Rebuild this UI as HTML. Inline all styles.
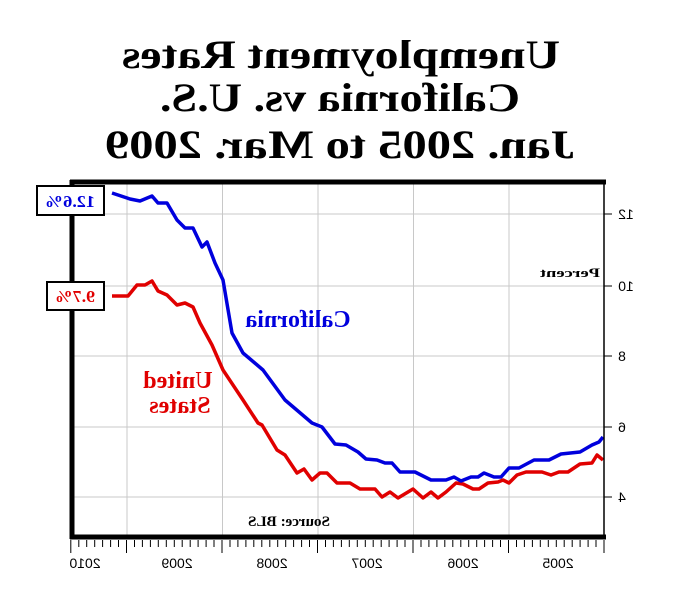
<!DOCTYPE html><html><head><style>body{margin:0;background:#fff}svg{display:block}</style></head><body>
<svg width="675" height="600" xmlns="http://www.w3.org/2000/svg" font-family="Liberation Serif, serif">
<rect width="675" height="600" fill="#fff"/>
<g font-weight="bold" font-size="40" text-anchor="middle">
<g transform="translate(341,68) scale(-1,1)"><text textLength="438" lengthAdjust="spacingAndGlyphs">Unemployment Rates</text></g>
<g transform="translate(340,111) scale(-1,1)"><text textLength="360" lengthAdjust="spacingAndGlyphs">California vs. U.S.</text></g>
<g transform="translate(340,158) scale(-1,1)"><text textLength="470" lengthAdjust="spacingAndGlyphs">Jan. 2005 to Mar. 2009</text></g>
</g>
<g stroke="#c8c8c8" stroke-width="1">
<line x1="127" y1="182" x2="127" y2="535"/><line x1="222.5" y1="182" x2="222.5" y2="535"/><line x1="318" y1="182" x2="318" y2="535"/><line x1="413.5" y1="182" x2="413.5" y2="535"/><line x1="509" y1="182" x2="509" y2="535"/>
<line x1="72" y1="214" x2="604" y2="214"/><line x1="72" y1="286" x2="604" y2="286"/><line x1="72" y1="356" x2="604" y2="356"/><line x1="72" y1="427" x2="604" y2="427"/><line x1="72" y1="497" x2="604" y2="497"/>
</g>
<polyline fill="none" stroke="#e00000" stroke-width="3.5" stroke-linejoin="round" points="112,296 128,296 137,285 145,285 152,281 158,291 167,295 177,305 185,303 193,307 200,323 212,345 223,370 243,400 258,423 262,425 277,450 285,455 297,473 304,469 312,480 320,473 327,473 337,483 350,483 360,489 375,489 382,497 390,492 398,498 413,489 423,498 431,492 438,498 446,492 456,483 463,484 473,489 479,489 488,483 498,482 503,480 509,483 517,475 526,472 542,472 551,475 559,472 568,472 580,464 592,463 597,455 603,460"/>
<polyline fill="none" stroke="#0000dd" stroke-width="3.5" stroke-linejoin="round" points="112,193 130,199 140,201 152,196 158,203 167,203 177,220 185,228 193,228 202,247 207,242 215,263 223,280 232,333 243,353 263,370 285,400 312,423 322,427 335,444 346,445 358,452 366,459 377,460 385,463 392,463 400,472 415,472 431,480 446,480 454,477 461,481 471,477 478,477 484,473 494,477 501,477 509,468 519,468 534,460 549,460 561,454 580,452 592,445 599,442 603,437"/>
<g stroke="#000">
<line x1="70" y1="182" x2="606" y2="182" stroke-width="5"/>
<line x1="72" y1="180" x2="72" y2="539" stroke-width="5"/>
<line x1="70" y1="537" x2="606" y2="537" stroke-width="5"/>
<line x1="604" y1="180" x2="604" y2="539" stroke-width="1.5"/>
<line x1="604" y1="214" x2="612" y2="214"/><line x1="604" y1="286" x2="612" y2="286"/><line x1="604" y1="356" x2="612" y2="356"/><line x1="604" y1="427" x2="612" y2="427"/><line x1="604" y1="497" x2="612" y2="497"/>
</g>
<path stroke="#000" stroke-width="1" fill="none" d="M604,540v13 M596,540v7 M588.1,540v7 M580.1,540v7 M572.2,540v7 M564.2,540v7 M556.3,540v7 M548.3,540v7 M540.3,540v7 M532.4,540v7 M524.4,540v7 M516.5,540v7 M508.5,540v13 M500.5,540v7 M492.6,540v7 M484.6,540v7 M476.7,540v7 M468.7,540v7 M460.8,540v7 M452.8,540v7 M444.8,540v7 M436.9,540v7 M428.9,540v7 M421,540v7 M413,540v13 M405,540v7 M397.1,540v7 M389.1,540v7 M381.2,540v7 M373.2,540v7 M365.3,540v7 M357.3,540v7 M349.3,540v7 M341.4,540v7 M333.4,540v7 M325.5,540v7 M317.5,540v13 M309.5,540v7 M301.6,540v7 M293.6,540v7 M285.7,540v7 M277.7,540v7 M269.8,540v7 M261.8,540v7 M253.8,540v7 M245.9,540v7 M237.9,540v7 M230,540v7 M222,540v13 M214,540v7 M206.1,540v7 M198.1,540v7 M190.2,540v7 M182.2,540v7 M174.3,540v7 M166.3,540v7 M158.3,540v7 M150.4,540v7 M142.4,540v7 M134.5,540v7 M126.5,540v13 M118.5,540v7 M110.6,540v7 M102.6,540v7 M94.7,540v7 M86.7,540v7 M78.8,540v7 M70.8,540v13"/>
<g font-family="Liberation Sans, sans-serif" font-size="14" text-anchor="middle">
<g transform="translate(626,219) scale(-1,1)"><text>12</text></g>
<g transform="translate(626,291) scale(-1,1)"><text>10</text></g>
<g transform="translate(622,361) scale(-1,1)"><text>8</text></g>
<g transform="translate(622,432) scale(-1,1)"><text>6</text></g>
<g transform="translate(622,502) scale(-1,1)"><text>4</text></g>
<g transform="translate(85,568) scale(-1,1)"><text>2010</text></g>
<g transform="translate(177,568) scale(-1,1)"><text>2009</text></g>
<g transform="translate(272,568) scale(-1,1)"><text>2008</text></g>
<g transform="translate(367,568) scale(-1,1)"><text>2007</text></g>
<g transform="translate(463,568) scale(-1,1)"><text>2006</text></g>
<g transform="translate(558,568) scale(-1,1)"><text>2005</text></g>
</g>
<g font-weight="bold" text-anchor="middle">
<g transform="translate(570,277) scale(-1,1)"><text font-size="13" textLength="60" lengthAdjust="spacingAndGlyphs">Percent</text></g>
<g transform="translate(289,526) scale(-1,1)"><text font-size="15" textLength="82" lengthAdjust="spacingAndGlyphs">Source: BLS</text></g>
<g transform="translate(298,327) scale(-1,1)"><text font-size="24" fill="#0000dd">California</text></g>
<g transform="translate(178,388) scale(-1,1)"><text font-size="24" fill="#e00000">United</text></g>
<g transform="translate(180,413) scale(-1,1)"><text font-size="24" fill="#e00000">States</text></g>
</g>
<rect x="37" y="186" width="67" height="29" fill="#fff" stroke="#000" stroke-width="2"/>
<rect x="47" y="282" width="57" height="28" fill="#fff" stroke="#000" stroke-width="2"/>
<g font-weight="bold" font-size="17" text-anchor="middle">
<g transform="translate(70,207) scale(-1,1)"><text fill="#0000dd" textLength="50" lengthAdjust="spacingAndGlyphs">12.6%</text></g>
<g transform="translate(75,302) scale(-1,1)"><text fill="#e00000" textLength="40" lengthAdjust="spacingAndGlyphs">9.7%</text></g>
</g>
</svg>
</body></html>
